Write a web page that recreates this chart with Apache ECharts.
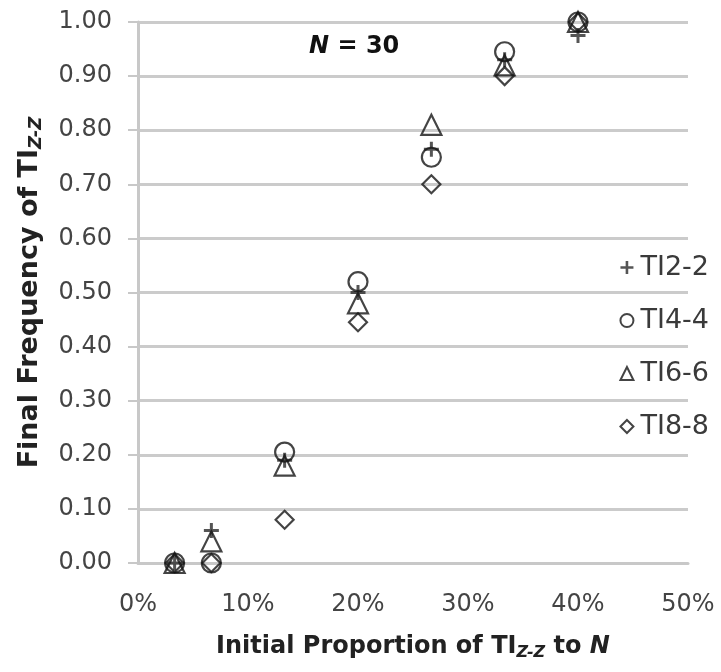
<!DOCTYPE html>
<html>
<head>
<meta charset="utf-8">
<script src="https://cdn.jsdelivr.net/npm/echarts@6/dist/echarts.min.js"></script>
<style>
html,body{margin:0;padding:0;background:#fff;}
#main{width:721px;height:672px;}
</style>
</head>
<body>
<div id="main"></div>
<script>
// x = initial proportion (%), y = final frequency
const xVals = [3.33, 6.67, 13.33, 20, 26.67, 33.33, 40];
const ti22 = [0.00, 0.06, 0.19, 0.50, 0.765, 0.93, 0.975];
const ti44 = [0.00, 0.00, 0.205, 0.52, 0.75, 0.945, 1.00];
const ti66 = [0.00, 0.04, 0.18, 0.48, 0.81, 0.92, 1.00];
const ti88 = [0.00, 0.00, 0.08, 0.445, 0.70, 0.90, 1.00];
const seriesNames = ['TI2-2', 'TI4-4', 'TI6-6', 'TI8-8'];
const xTicks = [0, 10, 20, 30, 40, 50];

const plusPath = 'path://M4,0 L6,0 L6,4 L10,4 L10,6 L6,6 L6,10 L4,10 L4,6 L0,6 L0,4 L4,4 Z';
const ink = '#151515';
const font = 'DejaVu Sans, Liberation Sans, sans-serif';

function pairs(ys) {
    return xVals.map((x, i) => [x, ys[i]]);
}

function hollow(name, ys, symbol, size) {
    return {
        name: name,
        type: 'scatter',
        data: pairs(ys),
        symbol: symbol,
        symbolSize: size,
        itemStyle: {color: 'rgba(255,255,255,0)', borderColor: ink, borderWidth: 2.2},
        emphasis: {disabled: true}
    };
}

const chart = echarts.init(document.getElementById('main'));
chart.setOption({
    animation: false,
    backgroundColor: '#fff',
    textStyle: {fontFamily: font},
    title: {
        text: '{i|N} = 30',
        left: 304,
        top: 30,
        textStyle: {
            fontFamily: font, fontSize: 24, fontWeight: 'bold', color: '#111',
            rich: {i: {fontFamily: font, fontSize: 24, fontWeight: 'bold', fontStyle: 'italic', color: '#111'}}
        }
    },
    grid: {left: 138, right: 33, top: 22, bottom: 109, containLabel: false},
    legend: {
        orient: 'vertical',
        right: 7,
        top: 249,
        itemGap: 26,
        itemWidth: 13,
        itemHeight: 13,
        textStyle: {fontFamily: font, fontSize: 27, color: '#3a3a3a', padding: [0, 0, 0, 2]},
        data: seriesNames
    },
    xAxis: {
        type: 'value',
        min: 0, max: 50, interval: 10,
        axisLine: {show: true, lineStyle: {color: '#c8c8c8', width: 3}},
        axisTick: {show: false},
        splitLine: {show: false},
        axisLabel: {
            fontFamily: font, fontSize: 24, color: '#444', margin: 30,
            formatter: v => xTicks.includes(v) ? v + '%' : ''
        },
        name: '{b|Initial Proportion of TI}{s|Z-Z}{b| to }{bi|N}',
        nameLocation: 'middle',
        nameGap: 70,
        nameTextStyle: {
            rich: {
                b: {fontFamily: font, fontSize: 24, fontWeight: 'bold', color: '#222'},
                bi: {fontFamily: font, fontSize: 24, fontWeight: 'bold', fontStyle: 'italic', color: '#222'},
                s: {fontFamily: font, fontSize: 16, fontWeight: 'bold', fontStyle: 'italic', color: '#222', padding: [12, 0, 0, 0]}
            }
        }
    },
    yAxis: {
        type: 'value',
        min: 0, max: 1, interval: 0.1,
        axisLine: {show: true, lineStyle: {color: '#c8c8c8', width: 3}},
        axisTick: {show: true, length: 10, lineStyle: {color: '#c8c8c8', width: 2}},
        splitLine: {show: true, lineStyle: {color: '#cbcbcb', width: 3}},
        axisLabel: {fontFamily: font, fontSize: 24, color: '#444', margin: 26, formatter: v => v.toFixed(2)},
        name: '{b|Final Frequency of TI}{s|Z-Z}',
        nameLocation: 'middle',
        nameGap: 93,
        nameTextStyle: {
            rich: {
                b: {fontFamily: font, fontSize: 27, fontWeight: 'bold', color: '#222'},
                s: {fontFamily: font, fontSize: 18, fontWeight: 'bold', fontStyle: 'italic', color: '#222', padding: [12, 0, 0, 0]}
            }
        }
    },
    series: [
        {
            name: seriesNames[0],
            type: 'scatter',
            data: pairs(ti22),
            symbol: plusPath,
            symbolSize: 15,
            itemStyle: {color: '#2a2a2a'},
            emphasis: {disabled: true}
        },
        hollow(seriesNames[1], ti44, 'circle', 19),
        hollow(seriesNames[2], ti66, 'triangle', 20),
        hollow(seriesNames[3], ti88, 'diamond', 18)
    ]
});
</script>
</body>
</html>
